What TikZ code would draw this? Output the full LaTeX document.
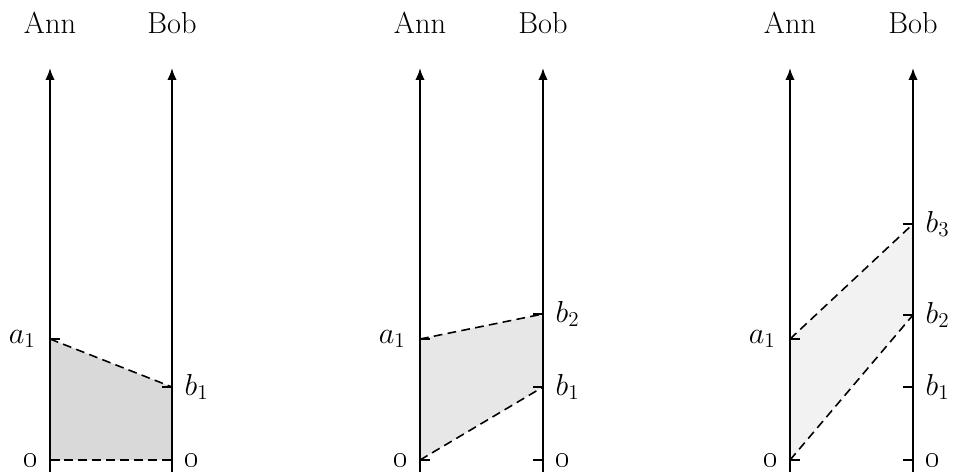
\documentclass[tikz,border=0pt]{standalone}
\usepackage{tikz}
\usetikzlibrary{positioning,arrows.meta}
\definecolor{ShadeDark}{RGB}{217,217,217}
\definecolor{ShadeMid}{RGB}{231,231,231}
\definecolor{ShadeLight}{RGB}{242,242,242}

\begin{document}
\begin{tikzpicture}[
    x=0.02cm,y=0.02cm,
    axis/.style={line width=1.1pt,-{Latex[length=2.4mm,width=1.9mm]}},
    tick/.style={line width=1.1pt},
    bound/.style={dash pattern=on 5pt off 3pt,line width=0.9pt},
    who/.style={font=\LARGE},
    lab/.style={font=\LARGE,inner sep=0pt}
]
\useasboundingbox (0,0) rectangle (953,471);

% Left diagram: a_1 above b_1
\coordinate (p1-ann0) at (50,11);
\coordinate (p1-bob0) at (172,11);
\coordinate (p1-a1) at (50,132);
\coordinate (p1-b1) at (172,84);
\coordinate (p1-annbot) at (50,-5);
\coordinate (p1-anntop) at (50,403);
\coordinate (p1-bobbot) at (172,-5);
\coordinate (p1-bobtop) at (172,403);

\fill[ShadeDark] (p1-ann0) -- (p1-a1) -- (p1-b1) -- (p1-bob0) -- cycle;
\draw[bound] (p1-a1) -- (p1-b1);
\draw[bound] (p1-ann0) -- (p1-bob0);

\draw[axis] (p1-annbot) -- (p1-anntop);
\draw[axis] (p1-bobbot) -- (p1-bobtop);
\draw[tick] (p1-ann0) -- ++(10,0);
\draw[tick] (p1-a1) -- ++(10,0);
\draw[tick] (p1-bob0) -- ++(-10,0);
\draw[tick] (p1-b1) -- ++(-10,0);

\node[who] (p1-ann) at (50,448) {Ann};
\node[who] (p1-bob) at (172,448) {Bob};
\node[lab,left=8pt of p1-a1] (p1-a1-lab) {$a_1$};
\node[lab,right=7pt of p1-b1] (p1-b1-lab) {$b_1$};
\node[lab,left=7pt of p1-ann0] (p1-ann0-lab) {\oldstylenums{0}};
\node[lab,right=7pt of p1-bob0] (p1-bob0-lab) {\oldstylenums{0}};

% Middle diagram: a_1 between b_1 and b_2
\coordinate (p2-ann0) at (420,11);
\coordinate (p2-bob0) at (543,11);
\coordinate (p2-a1) at (420,132);
\coordinate (p2-b1) at (543,84);
\coordinate (p2-b2) at (543,157);
\coordinate (p2-annbot) at (420,-5);
\coordinate (p2-anntop) at (420,403);
\coordinate (p2-bobbot) at (543,-5);
\coordinate (p2-bobtop) at (543,403);

\fill[ShadeMid] (p2-ann0) -- (p2-a1) -- (p2-b2) -- (p2-b1) -- cycle;
\draw[bound] (p2-a1) -- (p2-b2);
\draw[bound] (p2-ann0) -- (p2-b1);

\draw[axis] (p2-annbot) -- (p2-anntop);
\draw[axis] (p2-bobbot) -- (p2-bobtop);
\draw[tick] (p2-ann0) -- ++(10,0);
\draw[tick] (p2-a1) -- ++(10,0);
\draw[tick] (p2-bob0) -- ++(-10,0);
\draw[tick] (p2-b1) -- ++(-10,0);
\draw[tick] (p2-b2) -- ++(-10,0);

\node[who] (p2-ann) at (420,448) {Ann};
\node[who] (p2-bob) at (543,448) {Bob};
\node[lab,left=8pt of p2-a1] (p2-a1-lab) {$a_1$};
\node[lab,right=7pt of p2-b1] (p2-b1-lab) {$b_1$};
\node[lab,right=7pt of p2-b2] (p2-b2-lab) {$b_2$};
\node[lab,left=7pt of p2-ann0] (p2-ann0-lab) {\oldstylenums{0}};
\node[lab,right=7pt of p2-bob0] (p2-bob0-lab) {\oldstylenums{0}};

% Right diagram: a_1 between b_2 and b_3
\coordinate (p3-ann0) at (790,11);
\coordinate (p3-bob0) at (913,11);
\coordinate (p3-a1) at (790,132);
\coordinate (p3-b1) at (913,84);
\coordinate (p3-b2) at (913,156);
\coordinate (p3-b3) at (913,247);
\coordinate (p3-annbot) at (790,-5);
\coordinate (p3-anntop) at (790,403);
\coordinate (p3-bobbot) at (913,-5);
\coordinate (p3-bobtop) at (913,403);

\fill[ShadeLight] (p3-ann0) -- (p3-a1) -- (p3-b3) -- (p3-b2) -- cycle;
\draw[bound] (p3-a1) -- (p3-b3);
\draw[bound] (p3-ann0) -- (p3-b2);

\draw[axis] (p3-annbot) -- (p3-anntop);
\draw[axis] (p3-bobbot) -- (p3-bobtop);
\draw[tick] (p3-ann0) -- ++(10,0);
\draw[tick] (p3-a1) -- ++(10,0);
\draw[tick] (p3-bob0) -- ++(-10,0);
\draw[tick] (p3-b1) -- ++(-10,0);
\draw[tick] (p3-b2) -- ++(-10,0);
\draw[tick] (p3-b3) -- ++(-10,0);

\node[who] (p3-ann) at (790,448) {Ann};
\node[who] (p3-bob) at (913,448) {Bob};
\node[lab,left=8pt of p3-a1] (p3-a1-lab) {$a_1$};
\node[lab,right=7pt of p3-b1] (p3-b1-lab) {$b_1$};
\node[lab,right=7pt of p3-b2] (p3-b2-lab) {$b_2$};
\node[lab,right=7pt of p3-b3] (p3-b3-lab) {$b_3$};
\node[lab,left=7pt of p3-ann0] (p3-ann0-lab) {\oldstylenums{0}};
\node[lab,right=7pt of p3-bob0] (p3-bob0-lab) {\oldstylenums{0}};

\end{tikzpicture}
\end{document}
